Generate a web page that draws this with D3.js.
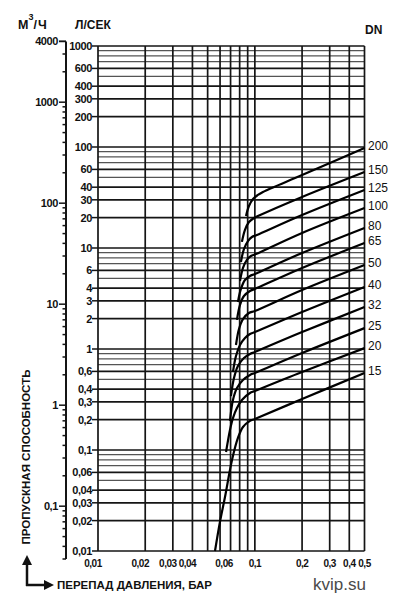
<!DOCTYPE html>
<html>
<head>
<meta charset="utf-8">
<script src="https://cdn.jsdelivr.net/npm/d3@7"></script>
<style>
  body { margin: 0; background: #fff; }
  svg { display: block; }
  text { font-family: "Liberation Sans", Arial, sans-serif; fill: #111; }
</style>
</head>
<body>
<svg width="403" height="600"></svg>
<script>
'use strict';
// nominal diameters, bottom curve first
const DN = [15, 20, 25, 32, 40, 50, 65, 80, 100, 125, 150, 200];

// curves: [pressure drop, bar ; flow, l/s]
const DN15 = [[0.0557, 0.01], [0.0599, 0.0194], [0.0645, 0.0342], [0.0715, 0.0796], [0.078, 0.1315], [0.084, 0.169], [0.0931, 0.194], [0.1, 0.203], [0.2, 0.32], [0.5, 0.579]];
const DN20 = [[0.0655, 0.0955], [0.0694, 0.158], [0.0725, 0.207], [0.0769, 0.26], [0.0827, 0.313], [0.0931, 0.367], [0.1, 0.384], [0.2, 0.592], [0.5, 1.02]];
const DN25 = [[0.0694, 0.194], [0.0725, 0.313], [0.0769, 0.411], [0.084, 0.493], [0.0931, 0.553], [0.1, 0.579], [0.2, 0.913], [0.5, 1.61]];
const DN32 = [[0.0704, 0.342], [0.0736, 0.516], [0.078, 0.679], [0.0852, 0.814], [0.0931, 0.892], [0.1, 0.934], [0.2, 1.47], [0.5, 2.6]];
const DN40 = [[0.0725, 0.592], [0.0758, 0.852], [0.0804, 1.095], [0.0865, 1.285], [0.0931, 1.41], [0.1, 1.47], [0.2, 2.32], [0.5, 4.11]];
const DN50 = [[0.0758, 1.095], [0.0792, 1.58], [0.084, 1.98], [0.0917, 2.27], [0.1, 2.38], [0.2, 3.84], [0.5, 6.79]];
const DN65 = [[0.0769, 1.94], [0.0804, 2.73], [0.0852, 3.35], [0.0931, 3.75], [0.1, 3.93], [0.2, 6.34], [0.5, 11.2]];
const DN80 = [[0.078, 2.92], [0.0815, 3.93], [0.0865, 4.82], [0.0931, 5.28], [0.1, 5.53], [0.2, 8.93], [0.5, 15.8]];
const DN100 = [[0.0804, 4.71], [0.084, 6.34], [0.089, 7.61], [0.0944, 8.33], [0.1016, 8.72], [0.2, 14.1], [0.5, 24.9]];
const DN125 = [[0.0815, 7.27], [0.0852, 9.77], [0.0904, 11.7], [0.0958, 12.85], [0.103, 13.45], [0.2, 21.2], [0.5, 37.5]];
const DN150 = [[0.0827, 11.5], [0.0865, 15.1], [0.0917, 18.1], [0.0987, 19.8], [0.1046, 20.7], [0.2, 32.0], [0.5, 56.5]];
const DN200 = [[0.0878, 20.7], [0.0917, 26.05], [0.0973, 30.6], [0.1046, 33.5], [0.1126, 35.9], [0.2, 52.8], [0.5, 97.7]];
const CURVES = [DN15, DN20, DN25, DN32, DN40, DN50, DN65, DN80, DN100, DN125, DN150, DN200];

// tick labels
const DP_LABELS = [0.01, 0.02, 0.03, 0.04, 0.06, 0.1, 0.2, 0.3, 0.4, 0.5];
const LS_LABELS = [1000, 600, 400, 300, 200, 100, 60, 40, 30, 20, 10, 6, 4, 3, 2, 1,
  0.6, 0.4, 0.3, 0.2, 0.1, 0.06, 0.04, 0.03, 0.02, 0.01];
const M3H_LABELS = [4000, 1000, 100, 10, 1, 0.1];
const M3H_RANGE = [0.03, 4000];

const svg = d3.select('svg');
const x = d3.scaleLog().domain([0.01, 0.5]).range([98, 364.5]);
const y = d3.scaleLog().domain([0.01, 1000]).range([551, 46]);
// m3/h = l/s * 3.6
const ym = d3.scaleLog().domain(y.domain().map(d => d * 3.6)).range(y.range());

const fmt = v => String(+v.toPrecision(6)).replace('.', ',');
const inList = (list, v) => list.some(d => Math.abs(d / v - 1) < 1e-6);

// grid
const grid = svg.append('g');
grid.selectAll('line.h').data(y.ticks()).join('line')
  .attr('class', 'h')
  .attr('x1', x(0.01)).attr('x2', x(0.5))
  .attr('y1', d => y(d)).attr('y2', d => y(d))
  .attr('stroke', d => inList(LS_LABELS, d) ? '#151515' : '#555')
  .attr('stroke-width', d => inList(LS_LABELS, d) ? 1.7 : 1.3);

grid.selectAll('line.v').data(x.ticks()).join('line')
  .attr('class', 'v')
  .attr('x1', d => x(d)).attr('x2', d => x(d))
  .attr('y1', y(1000)).attr('y2', y(0.01))
  .attr('stroke', '#151515')
  .attr('stroke-width', 1.7);

// l/s labels
const ls = svg.append('g').selectAll('g').data(LS_LABELS).join('g')
  .attr('transform', d => `translate(0,${y(d)})`);
ls.append('line')
  .attr('x1', 92).attr('x2', x(0.01))
  .attr('stroke', '#151515').attr('stroke-width', 1.5);
ls.append('text')
  .attr('x', 92).attr('y', 4)
  .attr('text-anchor', 'end')
  .attr('font-size', 11).attr('font-weight', 'bold')
  .attr('letter-spacing', -0.4)
  .text(fmt);

// m3/h axis
const axisX = 66;
svg.append('line')
  .attr('x1', axisX).attr('x2', axisX)
  .attr('y1', ym(M3H_RANGE[1])).attr('y2', ym(M3H_RANGE[0]))
  .attr('stroke', '#151515').attr('stroke-width', 2);
const mt = ym.copy().domain(M3H_RANGE).range([ym(M3H_RANGE[0]), ym(M3H_RANGE[1])])
  .ticks().concat([4000]);
svg.append('g').selectAll('line').data(mt).join('line')
  .attr('x1', d => inList(M3H_LABELS, d) ? axisX - 7 : axisX - 3.5).attr('x2', axisX)
  .attr('y1', d => ym(d)).attr('y2', d => ym(d))
  .attr('stroke', '#151515').attr('stroke-width', 1.5);
svg.append('g').selectAll('text').data(M3H_LABELS).join('text')
  .attr('x', axisX - 8).attr('y', d => ym(d) + 4)
  .attr('text-anchor', 'end')
  .attr('font-size', 11).attr('font-weight', 'bold')
  .attr('letter-spacing', -0.4)
  .text(fmt);

// bottom labels, the small ones sit a little left of their line
svg.append('g').selectAll('text').data(DP_LABELS).join('text')
  .attr('x', d => x(d) + (d < 0.05 ? -5 : d < 0.1 ? 4 : 0)).attr('y', 567)
  .attr('text-anchor', 'middle')
  .attr('font-size', 10).attr('font-weight', 'bold')
  .attr('letter-spacing', -0.5)
  .text(fmt);

// curves
const line = d3.line()
  .x(d => x(d[0])).y(d => y(d[1]))
  .curve(d3.curveCatmullRom.alpha(0.5));
svg.append('g').selectAll('path').data(CURVES).join('path')
  .attr('d', line)
  .attr('fill', 'none')
  .attr('stroke', '#000')
  .attr('stroke-width', 2.2);

svg.append('g').selectAll('text').data(DN).join('text')
  .attr('x', 368)
  .attr('y', (d, i) => y(CURVES[i][CURVES[i].length - 1][1]) + 2)
  .attr('font-size', 12)
  .attr('fill', '#222')
  .text(d => d);

// titles
const t1 = svg.append('text').attr('x', 18).attr('y', 29)
  .attr('font-size', 12.5).attr('font-weight', 'bold');
t1.append('tspan').text('М');
t1.append('tspan').attr('dy', -9).attr('font-size', 9).text('3');
t1.append('tspan').attr('dy', 9).attr('letter-spacing', 1).text('/Ч');

svg.append('text').attr('x', 75).attr('y', 29)
  .attr('font-size', 12).attr('font-weight', 'bold')
  .text('Л/СЕК');

svg.append('text').attr('x', 365).attr('y', 34)
  .attr('font-size', 12).attr('font-weight', 'bold')
  .text('DN');

svg.append('text')
  .attr('transform', 'translate(30,457) rotate(-90)')
  .attr('text-anchor', 'middle')
  .attr('font-size', 11.5).attr('font-weight', 'bold')
  .text('ПРОПУСКНАЯ СПОСОБНОСТЬ');

svg.append('text').attr('x', 57).attr('y', 589)
  .attr('font-size', 11.5).attr('font-weight', 'bold')
  .text('ПЕРЕПАД ДАВЛЕНИЯ, БАР');

// arrows
const arrows = svg.append('g').attr('stroke', '#111').attr('stroke-width', 2.5);
arrows.append('line').attr('x1', 27).attr('y1', 586).attr('x2', 27).attr('y2', 562);
arrows.append('line').attr('x1', 26).attr('y1', 585).attr('x2', 46).attr('y2', 585);
svg.append('path').attr('d', 'M22,565L27,555L32,565Z').attr('fill', '#111');
svg.append('path').attr('d', 'M44,580L54,585L44,590Z').attr('fill', '#111');

svg.append('text').attr('x', 313).attr('y', 590)
  .attr('font-family', '"Open Sans", sans-serif')
  .attr('font-size', 17)
  .style('fill', '#4a4a4a')
  .text('kvip.su');
</script>
</body>
</html>
